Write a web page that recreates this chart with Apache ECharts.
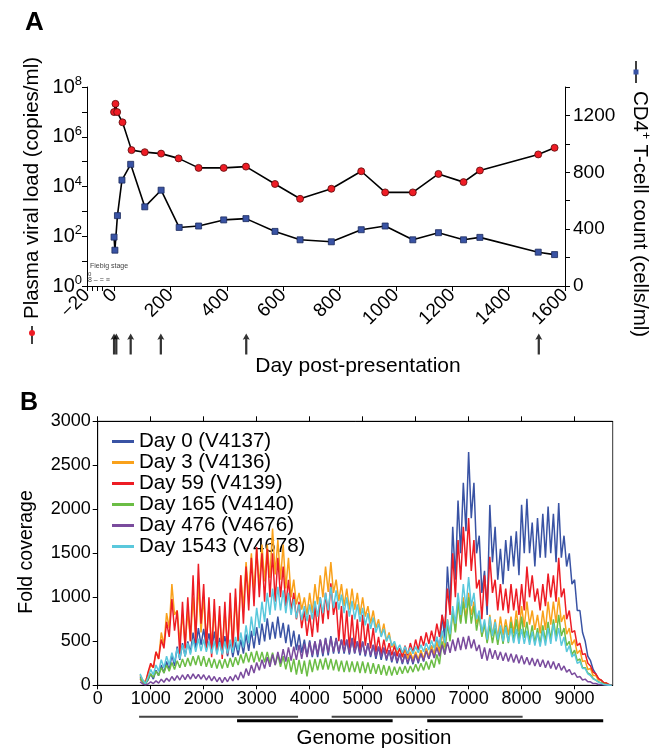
<!DOCTYPE html>
<html><head><meta charset="utf-8">
<script src="https://cdn.jsdelivr.net/npm/echarts@6/dist/echarts.min.js"></script>
<style>html,body{margin:0;padding:0;background:#fff}#c{width:653px;height:748px}</style>
</head><body><div id="c"></div>
<script>
// ---------- Panel A data ----------
const vlDays = [0, 5, 11, 30, 62, 109, 167, 229, 300, 389, 468, 571, 660, 771, 877, 962, 1060, 1151, 1240, 1298, 1505, 1563];
const vlValues = [9.8e6, 2.1e7, 9.8e6, 3.8e6, 2.9e5, 2.4e5, 2.1e5, 1.35e5, 5.6e4, 5.6e4, 6.3e4, 1.26e4, 3.2e3, 8.1e3, 4.1e4, 5.8e3, 5.8e3, 3.2e4, 1.5e4, 4.4e4, 1.95e5, 3.6e5];
const cd4Days = [0, 3, 12, 28, 59, 109, 167, 231, 300, 389, 468, 571, 660, 771, 877, 962, 1060, 1151, 1240, 1298, 1505, 1563];
const cd4Values = [344, 252, 495, 745, 856, 557, 674, 412, 422, 465, 474, 384, 325, 311, 396, 422, 325, 375, 325, 342, 238, 221];
const sampleDays = [0, 8, 59, 166, 469, 1507];
const dayTickValues = [-96, -78, -60, -43, 0, 200, 400, 600, 800, 1000, 1200, 1400, 1600];
const dayLabelValues = [-96, 0, 200, 400, 600, 800, 1000, 1200, 1400, 1600];
const dayLabelText = ['\u221220', '0', '200', '400', '600', '800', '1000', '1200', '1400', '1600'];

// ---------- Panel B data ----------
const genomePos = [800,850,900,950,1000,1050,1100,1150,1200,1250,1300,1350,1400,1450,1500,1550,1600,1650,1700,1750,1800,1850,1900,1950,2000,2050,2100,2150,2200,2250,2300,2350,2400,2450,2500,2550,2600,2650,2700,2750,2800,2850,2900,2950,3000,3050,3100,3150,3200,3250,3300,3350,3400,3450,3500,3550,3600,3650,3700,3750,3800,3850,3900,3950,4000,4050,4100,4150,4200,4250,4300,4350,4400,4450,4500,4550,4600,4650,4700,4750,4800,4850,4900,4950,5000,5050,5100,5150,5200,5250,5300,5350,5400,5450,5500,5550,5600,5650,5700,5750,5800,5850,5900,5950,6000,6050,6100,6150,6200,6250,6300,6350,6400,6450,6500,6550,6600,6650,6700,6750,6800,6850,6900,6950,7000,7050,7100,7150,7200,7250,7300,7350,7400,7450,7500,7550,7600,7650,7700,7750,7800,7850,7900,7950,8000,8050,8100,8150,8200,8250,8300,8350,8400,8450,8500,8550,8600,8650,8700,8750,8800,8850,8900,8950,9000,9050,9100,9150,9200,9250,9300,9350,9400,9450,9500,9550,9600,9650,9700];
const covDay0 = [100,40,20,60,130,70,170,110,230,140,270,170,350,220,440,290,480,330,500,370,600,420,650,460,640,430,590,400,610,370,540,350,560,330,510,320,490,340,520,360,580,390,620,420,660,460,700,500,760,520,720,530,780,540,710,480,690,440,620,400,580,370,520,330,510,320,500,320,520,330,540,340,560,360,540,360,520,360,520,350,540,360,500,340,500,330,480,320,460,300,440,290,420,280,400,260,380,250,360,240,360,240,350,240,360,250,380,270,420,300,450,320,550,380,800,520,1350,900,1800,1200,2100,1500,2300,1750,2650,1900,2300,1500,1700,1050,1300,800,2050,1400,1800,1200,1550,1150,1650,1300,1700,1350,1750,1250,2050,1500,2120,1500,1850,1350,1900,1450,1950,1450,2030,1500,1950,1400,2070,1450,1700,1350,1500,1150,1200,850,850,600,500,330,280,180,130,70,60,25,25,5,0];
const covDay3 = [120,60,40,130,230,200,380,300,600,460,820,650,1150,800,850,500,800,450,850,500,1000,550,1150,600,1000,500,900,450,850,420,800,400,850,430,900,450,1000,500,1250,880,1400,1000,1500,1060,1550,1120,1600,1180,1600,1220,1780,1260,1650,1200,1600,1100,1450,1000,1200,920,1050,860,1000,800,1050,820,1150,920,1250,1000,1350,1060,1400,1050,1200,960,1150,900,1100,860,1100,860,1050,800,1000,780,900,700,850,650,750,560,700,500,600,430,480,360,420,320,400,300,380,290,380,290,400,300,420,320,450,340,500,370,600,430,750,560,850,620,950,720,1000,760,1050,800,950,700,800,560,700,490,800,560,750,530,780,570,750,570,780,590,850,610,900,660,950,690,850,630,800,590,850,630,950,690,950,710,1000,720,800,580,650,460,520,360,400,270,280,180,190,110,110,60,60,25,25,5,0];
const covDay59 = [70,40,20,150,250,200,380,300,520,420,720,550,980,620,850,350,950,420,1000,500,1250,480,1380,700,1150,420,1000,320,980,380,900,300,950,350,1050,380,1100,500,1250,700,1350,850,1450,900,1570,1000,1500,950,1550,1000,1500,950,1450,1000,1350,900,1200,850,1050,750,950,650,850,560,800,550,900,600,1000,700,1050,750,1160,800,950,500,900,450,850,420,800,420,750,400,800,450,700,420,650,380,550,350,520,360,480,340,450,330,420,320,450,340,480,370,520,400,560,450,600,470,620,500,700,550,800,650,1100,800,1500,1000,1650,1200,1800,1350,1900,1300,1650,1100,1200,750,1250,900,1460,1050,1200,850,1150,850,1100,820,1150,850,1100,800,1150,850,1350,1000,1250,950,1100,850,1150,900,1270,1000,1250,950,1450,1000,1100,750,850,600,620,450,480,350,360,250,220,150,130,80,60,30,25,8,0];
const covDay165 = [80,40,10,70,130,90,160,110,200,140,230,160,260,180,280,200,300,210,310,220,330,230,340,220,330,210,310,200,300,190,290,190,300,200,310,210,320,230,350,250,370,260,380,260,390,270,380,260,380,250,370,230,350,210,330,180,320,150,300,120,290,130,280,100,290,150,300,170,300,180,310,180,300,170,290,160,280,150,280,150,270,150,270,140,270,140,260,130,250,130,240,120,230,110,220,110,210,120,210,130,220,140,220,150,240,160,250,170,270,180,290,200,350,240,500,350,700,500,850,600,950,700,950,700,1000,700,900,620,800,550,700,480,680,480,650,460,650,470,680,480,720,500,750,520,780,540,720,500,680,480,650,470,680,500,720,520,750,550,800,560,650,450,500,350,400,280,300,200,200,140,120,80,60,40,30,15,10,3,0];
const covDay476 = [40,15,5,15,40,20,50,25,70,35,80,45,100,55,110,60,120,65,125,70,130,75,125,70,120,60,110,50,100,40,90,30,90,40,100,50,120,60,150,80,190,110,230,140,260,170,290,190,320,210,350,230,380,250,410,270,430,280,440,290,460,300,470,320,490,340,500,350,520,360,530,370,540,380,530,380,520,380,520,370,520,370,500,360,490,350,470,340,460,330,440,320,430,300,400,280,380,270,360,260,350,260,340,260,350,270,360,280,390,300,410,310,430,330,460,350,490,370,520,390,540,400,550,410,560,420,520,390,460,300,430,280,420,300,400,290,380,280,370,270,360,260,350,250,340,240,320,230,310,220,300,210,290,200,280,190,270,180,250,170,220,150,180,120,140,90,100,60,70,40,40,20,20,10,10,5,3,0,0];
const covDay1543 = [130,60,20,90,180,120,230,160,290,200,330,230,370,260,420,300,460,330,480,350,520,380,530,390,520,380,500,360,500,350,490,350,500,360,520,370,550,400,600,430,680,480,780,560,880,650,950,720,1050,800,1100,850,1120,850,1080,820,1050,800,980,760,920,740,900,730,920,750,960,780,1000,820,1050,850,1120,880,1080,860,1030,820,1000,780,960,750,920,720,880,680,820,640,770,600,700,550,640,500,570,450,500,400,460,370,440,360,430,360,440,370,460,380,480,400,510,420,550,440,620,480,750,580,900,700,1050,800,1150,880,1230,900,1050,750,850,600,750,520,780,560,720,520,680,500,660,490,650,480,640,470,640,470,620,460,610,450,600,440,620,450,650,470,700,500,650,450,550,380,450,320,360,250,270,190,190,130,110,70,60,35,25,10,5,0,0];
const seriesNames = ['Day 0 (V4137)', 'Day 3 (V4136)', 'Day 59 (V4139)', 'Day 165 (V4140)', 'Day 476 (V4676)', 'Day 1543 (V4678)'];
const seriesColors = ['#3953a4', '#f9a11b', '#ed1c24', '#6bbd45', '#7a4b9d', '#5ac8dc'];
const covAll = [covDay0, covDay3, covDay59, covDay165, covDay476, covDay1543];
const genomeTicks = [0,1000,2000,3000,4000,5000,6000,7000,8000,9000];
const ampStart = [781, 2630, 4415, 6219];
const ampEnd = [3781, 5566, 8019, 9540];
const ampRow = [2, 1, 2, 1];

const FONT = '"Liberation Sans", Arial, sans-serif';
const chart = echarts.init(document.getElementById('c'), null, {renderer: 'canvas'});

const pair = (xs, ys) => xs.map((x, i) => [x, ys[i]]);
const axisBlack = {lineStyle: {color: '#000', width: 1}};

const covSeries = covAll.map((arr, i) => ({
  type: 'line', name: seriesNames[i], xAxisIndex: 2, yAxisIndex: 2,
  data: pair(genomePos, arr), showSymbol: false, symbol: 'none',
  lineStyle: {color: seriesColors[i], width: 1.5}, itemStyle: {color: seriesColors[i]},
  z: 3 + i
}));

const ampSeries = ampStart.map((s, i) => ({
  type: 'line', xAxisIndex: 4, yAxisIndex: 4, symbol: 'none',
  data: [[s, ampRow[i]], [ampEnd[i], ampRow[i]]],
  lineStyle: {color: ampRow[i] === 2 ? '#444' : '#000', width: ampRow[i] === 2 ? 2 : 3},
  silent: true
}));

chart.setOption({
  animation: false,
  backgroundColor: '#fff',
  textStyle: {fontFamily: FONT},
  grid: [
    {left: 87, right: 88, top: 87, bottom: 462},
    {left: 87, right: 88, top: 330, height: 28},
    {left: 97.7, right: 40.3, top: 421.3, bottom: 62.7, show: true, borderColor: '#333', borderWidth: 1},
    {left: 97.7, right: 40.3, top: 712.7, height: 12}
  ],
  xAxis: [
    {gridIndex: 0, type: 'value', min: -96, max: 1600, axisLine: {show: true, ...axisBlack, onZero: false},
     splitLine: {show: false},
     axisTick: {show: true, customValues: dayTickValues, length: 5, lineStyle: {color: '#000'}},
     axisLabel: {customValues: dayLabelValues, rotate: 45, fontSize: 19, color: '#000', margin: 6, fontFamily: FONT,
       formatter: v => dayLabelText[dayLabelValues.indexOf(v)]}},
    {gridIndex: 1, type: 'value', min: -96, max: 1600, show: false},
    {gridIndex: 2, type: 'value', min: 0, max: 9719, position: 'bottom',
     axisLine: {show: true, ...axisBlack, onZero: false}, splitLine: {show: false},
     axisTick: {show: true, customValues: genomeTicks, length: 4, lineStyle: {color: '#000'}},
     axisLabel: {customValues: genomeTicks, fontSize: 18, color: '#000', margin: 5, fontFamily: FONT, formatter: v => String(v)}},
    {gridIndex: 2, type: 'value', min: 0, max: 9719, position: 'top',
     axisLine: {show: true, ...axisBlack, onZero: false}, splitLine: {show: false},
     axisTick: {show: true, customValues: genomeTicks, length: 5, lineStyle: {color: '#000'}},
     axisLabel: {show: false}},
    {gridIndex: 3, type: 'value', min: 0, max: 9719, show: false}
  ],
  yAxis: [
    {gridIndex: 0, type: 'log', logBase: 10, min: 1, max: 1e8, position: 'left',
     axisLine: {show: true, ...axisBlack, onZero: false}, splitLine: {show: false},
     axisTick: {show: true, length: 5, lineStyle: {color: '#000'}},
     axisLabel: {color: '#000', margin: 5, fontFamily: FONT,
       formatter: v => { const e = Math.round(Math.log10(v)); return e % 2 ? '' : '{b|10}{s|' + e + '}'; },
       rich: {b: {fontSize: 20, color: '#000', fontFamily: FONT}, s: {fontSize: 13, color: '#000', padding: [0, 0, 11, 0], fontFamily: FONT}}}},
    {gridIndex: 0, type: 'value', min: 0, max: 1400, interval: 200, position: 'right',
     axisLine: {show: true, ...axisBlack, onZero: false}, splitLine: {show: false},
     axisTick: {show: true, length: 5, lineStyle: {color: '#000'}},
     axisLabel: {fontSize: 19, color: '#000', margin: 8, fontFamily: FONT, formatter: v => (v % 400 === 0 ? String(v) : '')}},
    {gridIndex: 2, type: 'value', min: 0, max: 3000, interval: 500,
     axisLine: {show: true, ...axisBlack, onZero: false}, splitLine: {show: false},
     axisTick: {show: true, length: 5, lineStyle: {color: '#000'}},
     axisLabel: {fontSize: 18, color: '#000', margin: 7, fontFamily: FONT, formatter: v => String(v)}},
    {gridIndex: 1, type: 'value', min: 0, max: 1, show: false},
    {gridIndex: 3, type: 'value', min: 0, max: 3, show: false}
  ],
  legend: {
    show: true, orient: 'vertical', left: 112, top: 431, padding: 0, itemGap: 0,
    itemWidth: 22, itemHeight: 3, icon: 'rect',
    data: seriesNames,
    textStyle: {fontSize: 20.5, color: '#000', lineHeight: 17.3, fontFamily: FONT},
    selectedMode: false
  },
  series: [
    {type: 'line', name: 'CD4', xAxisIndex: 0, yAxisIndex: 1, data: pair(cd4Days, cd4Values),
     symbol: 'rect', symbolSize: 6, lineStyle: {color: '#000', width: 1.6},
     itemStyle: {color: '#3953a4', borderColor: '#1b2a5c', borderWidth: 0.8}, z: 3},
    {type: 'line', name: 'VL', xAxisIndex: 0, yAxisIndex: 0, data: pair(vlDays, vlValues),
     symbol: 'circle', symbolSize: 7, lineStyle: {color: '#000', width: 1.6},
     itemStyle: {color: '#ee1c25', borderColor: '#5a0a0a', borderWidth: 0.8}, z: 4},
    {type: 'scatter', xAxisIndex: 1, yAxisIndex: 3, data: sampleDays.map(d => [d, 0.5]),
     symbol: 'path://M5,0 L10,9 L6.6,8 L6.6,30 L3.4,30 L3.4,8 L0,9 Z', symbolSize: [7, 21],
     itemStyle: {color: '#000'}, silent: true},
    ...covSeries,
    ...ampSeries
  ],
  graphic: [
    {type: 'text', left: 25, top: 10, style: {text: 'A', font: 'bold 26px ' + FONT, fill: '#000'}},
    {type: 'text', left: 20, top: 391, style: {text: 'B', font: 'bold 25px ' + FONT, fill: '#000'}},
    {type: 'text', x: 32, y: 188, rotation: Math.PI / 2,
     style: {text: 'Plasma viral load (copies/ml)', font: '20.5px ' + FONT, fill: '#000', align: 'center', verticalAlign: 'middle'}},
    {type: 'line', shape: {x1: 32, y1: 326, x2: 32, y2: 344}, style: {stroke: '#000', lineWidth: 1.5}},
    {type: 'circle', shape: {cx: 32, cy: 333, r: 3}, style: {fill: '#ee1c25'}},
    {type: 'text', x: 640, y: 214, rotation: -Math.PI / 2,
     style: {rich: {a: {font: '20.5px ' + FONT, fill: '#000'}, s: {font: '12px ' + FONT, fill: '#000', padding: [0, 0, 10, 0]}},
       text: '{a|CD4}{s|+}{a| T-cell count (cells/ml)}', align: 'center', verticalAlign: 'middle'}},
    {type: 'line', shape: {x1: 636, y1: 61, x2: 636, y2: 83}, style: {stroke: '#000', lineWidth: 1.5}},
    {type: 'rect', shape: {x: 633.5, y: 69.5, width: 5, height: 5}, style: {fill: '#3953a4'}},
    {type: 'text', x: 358, y: 366, style: {text: 'Day post-presentation', font: '21px ' + FONT, fill: '#000', align: 'center', verticalAlign: 'middle'}},
    {type: 'text', x: 27, y: 552, rotation: Math.PI / 2, style: {text: 'Fold coverage', font: '19.5px ' + FONT, fill: '#000', align: 'center', verticalAlign: 'middle'}},
    {type: 'text', x: 374, y: 738, style: {text: 'Genome position', font: '20.5px ' + FONT, fill: '#000', align: 'center', verticalAlign: 'middle'}},
    {type: 'text', x: 90, y: 263, style: {text: 'Fiebig stage', font: '7px ' + FONT, fill: '#444'}},
    {type: 'text', x: 88, y: 271, style: {text: '0', font: '6px ' + FONT, fill: '#444'}},
    {type: 'text', x: 88, y: 277, style: {text: '8 \u2012 = \u2261', font: '7px ' + FONT, fill: '#444'}}
  ]
});
</script></body></html>
